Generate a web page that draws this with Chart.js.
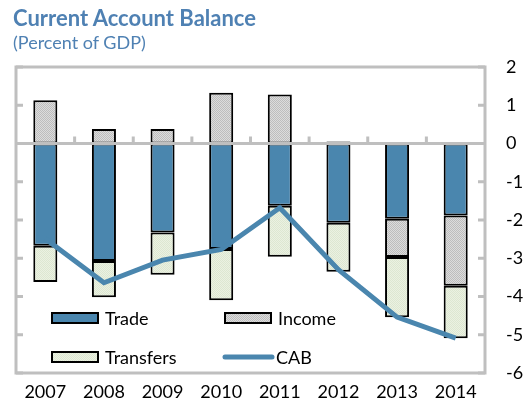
<!DOCTYPE html>
<html>
<head>
<meta charset="utf-8">
<script src="https://cdn.jsdelivr.net/npm/chart.js@4.4.1/dist/chart.umd.min.js"></script>
<style>
  html, body { margin: 0; padding: 0; background: #fff; }
  #wrap { position: relative; width: 529px; height: 412px; }
  .ttl { position: absolute; left: 13px; font-family: Lato, "Open Sans", sans-serif; color: #4f81b3; line-height: 1.2; white-space: nowrap; }
  #t1 { top: 5px; font-size: 22px; font-weight: bold; }
  #t2 { top: 32px; font-size: 18px; }
</style>
</head>
<body>
<div id="wrap">
  <div class="ttl" id="t1">Current Account Balance</div>
  <div class="ttl" id="t2">(Percent of GDP)</div>
  <canvas id="cab" width="529" height="412"></canvas>
</div>
<script>
// data, percent of GDP
var years = ["2007", "2008", "2009", "2010", "2011", "2012", "2013", "2014"];
var trade = [-2.67, -3.07, -2.33, -2.76, -1.63, -2.07, -1.97, -1.88];
var income = [1.13, 0.38, 0.38, 1.33, 1.28, 0.05, -1.00, -1.84];
var transfers = [-0.95, -0.95, -1.10, -1.34, -1.33, -1.28, -1.57, -1.37];
var cab = [-2.49, -3.64, -3.05, -2.77, -1.68, -3.30, -4.54, -5.09];
var yTicks = [2, 1, 0, -1, -2, -3, -4, -5, -6];

var blue = "#4a86ae";
var frameGray = "#bfbfbf";
var fontFamily = "Lato, 'Open Sans', sans-serif";

// fine stipple textures for the hatched series (2x2 checker)
function makePattern(bg, fg) {
    var c = document.createElement("canvas");
    c.width = 2; c.height = 2;
    var g = c.getContext("2d");
    g.fillStyle = bg;
    g.fillRect(0, 0, 2, 2);
    g.fillStyle = fg;
    g.fillRect(0, 0, 1, 1);
    g.fillRect(1, 1, 1, 1);
    return g.createPattern(c, "repeat");
}
var ctx = document.getElementById("cab").getContext("2d");
var incomeFill = makePattern("#dcdcdc", "#bdbdbd");
var transfersFill = makePattern("#ebf1e2", "#dde7d1");

// frame, zero line and the small inward ticks
var framePlugin = {
    id: "frame",
    afterDatasetsDraw: function (chart) {
        var a = chart.chartArea, g = chart.ctx;
        var y = chart.scales.y, x = chart.scales.x;
        g.save();
        g.strokeStyle = frameGray;
        g.lineWidth = 3;
        var y0 = y.getPixelForValue(0);
        g.beginPath();
        g.moveTo(a.left, y0); g.lineTo(a.right, y0);
        yTicks.forEach(function (v) {
            var p = y.getPixelForValue(v);
            g.moveTo(a.left, p); g.lineTo(a.left + 7, p);
            g.moveTo(a.right, p); g.lineTo(a.right - 7, p);
        });
        for (var i = 1; i < years.length; i++) {
            var px = (x.getPixelForValue(i - 1) + x.getPixelForValue(i)) / 2;
            g.moveTo(px, y0); g.lineTo(px, y0 - 7);
        }
        g.stroke();
        g.strokeRect(a.left, a.top, a.right - a.left, a.bottom - a.top);
        g.restore();
    }
};

// legend sits inside the plot, two rows
var legendPlugin = {
    id: "inlineLegend",
    afterDraw: function (chart) {
        var g = chart.ctx;
        var ds = chart.data.datasets;
        var spots = [
            { x: 52, y: 318 },
            { x: 225, y: 318 },
            { x: 52, y: 357 },
            { x: 223, y: 357 }
        ];
        g.save();
        g.font = "18px " + fontFamily;
        g.textBaseline = "middle";
        g.fillStyle = "#000";
        ds.forEach(function (d, i) {
            var s = spots[i];
            if (d.type === "line") {
                g.strokeStyle = d.borderColor;
                g.lineWidth = 5;
                g.lineCap = "round";
                g.beginPath();
                g.moveTo(s.x + 2, s.y); g.lineTo(s.x + 49, s.y);
                g.stroke();
            } else {
                g.fillStyle = d.backgroundColor;
                g.fillRect(s.x, s.y - 5, 46, 10);
                g.strokeStyle = "#000";
                g.lineWidth = 2;
                g.strokeRect(s.x, s.y - 5, 46, 10);
            }
            g.fillStyle = "#000";
            g.fillText(d.label, s.x + 53, s.y + 1);
        });
        g.restore();
    }
};

var barStyle = {
    type: "bar",
    borderColor: "#000",
    borderWidth: 2,
    borderSkipped: false,
    categoryPercentage: 1,
    barPercentage: 0.41,
    order: 1
};

new Chart(ctx, {
    data: {
        labels: years,
        datasets: [
            Object.assign({ label: "Trade", data: trade, backgroundColor: blue }, barStyle),
            Object.assign({ label: "Income", data: income, backgroundColor: incomeFill }, barStyle),
            Object.assign({ label: "Transfers", data: transfers, backgroundColor: transfersFill }, barStyle),
            {
                type: "line",
                label: "CAB",
                data: cab,
                borderColor: blue,
                borderWidth: 5,
                pointRadius: 0,
                tension: 0,
                order: 0
            }
        ]
    },
    options: {
        responsive: false,
        animation: false,
        layout: { padding: { left: 16, top: 67, right: 0, bottom: 0 } },
        plugins: {
            legend: { display: false },
            tooltip: { enabled: false }
        },
        scales: {
            x: {
                stacked: true,
                grid: { display: false, drawTicks: false },
                border: { display: false },
                ticks: { color: "#000", font: { family: fontFamily, size: 18 }, padding: 8, maxRotation: 0 },
                afterFit: function (s) { s.height = 39; }
            },
            y: {
                stacked: true,
                position: "right",
                min: -6,
                max: 2,
                grid: { display: false, drawTicks: false },
                border: { display: false },
                ticks: { stepSize: 1, color: "#000", font: { family: fontFamily, size: 18 }, padding: 21 },
                afterFit: function (s) { s.width = 44; }
            }
        }
    },
    plugins: [framePlugin, legendPlugin]
});
</script>
</body>
</html>
